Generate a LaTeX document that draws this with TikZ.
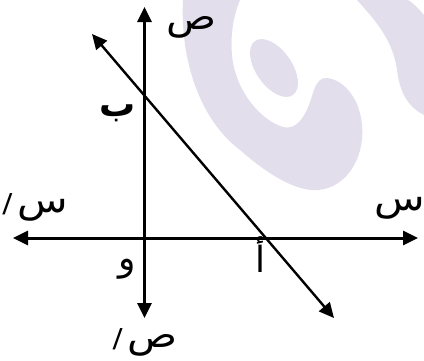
\documentclass[tikz,border=0pt]{standalone}
\usepackage{fontspec}
\usepackage{tikz}
\usetikzlibrary{arrows.meta,positioning}
\newfontfamily\arabicfont[Script=Arabic]{DejaVu Sans}
\newfontfamily\arabicbold[Script=Arabic]{DejaVu Sans Bold}
\TeXXeTstate=1
\definecolor{logolilac}{HTML}{E3DEEC}
\newcommand{\primemark}{{\fontsize{26}{26}\selectfont/}}

\begin{document}
\begin{tikzpicture}[
        x=1pt,y=-1pt,
        >={Triangle[length=15pt,width=14pt]},
        axis/.style={line width=3pt,<->},
        graph/.style={line width=2.4pt,<->},
        lbl/.style={font=\fontsize{36}{38}\selectfont\arabicfont,inner sep=0pt,
                    text height=14pt,text depth=6pt},
        axlbl/.style={lbl,xscale=1.15},
        pt/.style={lbl,font=\fontsize{36}{38}\selectfont\arabicbold},
        every node/.style={align=center}
      ]
        \useasboundingbox (0,0) rectangle (424,360);

        % watermark
        \fill[logolilac] (183,0) .. controls (180,60) and (200,120) .. (240,150)
          .. controls (265,172) and (295,192) .. (318,190)
          .. controls (345,188) and (365,160) .. (362,125)
          .. controls (360,100) and (345,80) .. (327,78)
          .. controls (315,77) and (313,95) .. (309,105)
          .. controls (303,120) and (295,130) .. (283,127)
          .. controls (260,120) and (235,90) .. (232,55)
          .. controls (230,30) and (235,12) .. (240,0) -- cycle;
        \fill[logolilac,rotate around={-55:(274,68)}] (274,68) ellipse [x radius=33pt,y radius=18pt];
        \fill[logolilac] (357,0) .. controls (375,20) and (393,40) .. (397,70)
          .. controls (400,95) and (410,108) .. (424,115) -- (424,15)
          .. controls (418,8) and (413,3) .. (408,0) -- cycle;

        \coordinate (ytop) at (144.5,7);
        \coordinate (ybot) at (144.5,318);
        \coordinate (xleft) at (13,238);
        \coordinate (xright) at (418,238);
        \coordinate (ltop) at (92,34);
        \coordinate (lbot) at (334,318);

        \draw[axis] (xleft)--(xright);
        \draw[axis] (ybot)--(ytop);
        \draw[graph] (ltop)--(lbot);

        \node[axlbl] (yl) at (192,25) {\beginR ص\endR};
        \node[axlbl] (ylp) at (145,343) {\beginR ص\kern4pt\primemark\endR};
        \node[axlbl] (xl) at (400,206) {\beginR س\endR};
        \node[axlbl] (xlp) at (35,208) {\beginR س\kern4pt\primemark\endR};
        \node[lbl] (o) at (127,266) {\beginR و\endR};
        \node[pt] (b) at (118,112) {\beginR ب\endR};
        \node[lbl] (a) at (261,268) {\beginR أ\endR};
      \end{tikzpicture}
\end{document}
